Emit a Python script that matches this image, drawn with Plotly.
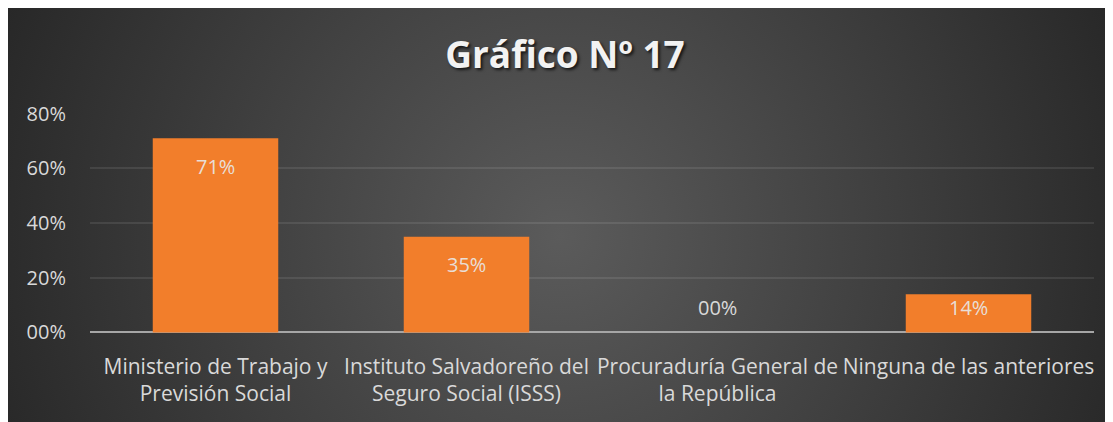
import base64
import plotly.graph_objects as go

# ---- data ----
categories = [
    "Ministerio de Trabajo y<br>Previsión Social",
    "Instituto Salvadoreño del<br>Seguro Social (ISSS)",
    "Procuraduría General de<br>la República",
    "Ninguna de las anteriores",
]
values = [0.71, 0.35, 0.0, 0.14]
tick_vals = [0.0, 0.2, 0.4, 0.6, 0.8]
tick_text = ["00%", "20%", "40%", "60%", "80%"]
title_text = "Gráfico Nº 17"

# ---- geometry (page body has an 8px margin) ----
W, H = 1105, 414
M_L, M_R, M_T, M_B = 82, 19, 105, 89
Y_MIN, Y_MAX = -0.002, 0.802
plot_w = W - M_L - M_R
plot_h = H - M_T - M_B
px_per_unit = plot_h / (Y_MAX - Y_MIN)

svg = (
    f'<svg xmlns="http://www.w3.org/2000/svg" width="{W}" height="{H}" viewBox="0 0 {W} {H}">'
    f'<defs><radialGradient id="g" gradientUnits="userSpaceOnUse" cx="{W*0.5}" cy="{H*0.55}" r="620">'
    '<stop offset="0" stop-color="#5b5b5b"/><stop offset="1" stop-color="#262626"/>'
    '</radialGradient></defs>'
    f'<rect width="{W}" height="{H}" fill="url(#g)"/></svg>'
)
svg_uri = "data:image/svg+xml;base64," + base64.b64encode(svg.encode()).decode()

fig = go.Figure()
fig.add_trace(go.Bar(
    x=categories, y=values,
    marker=dict(color="#f27e2b", line=dict(width=0)),
    hoverinfo="skip",
))

# data labels (inside end, clamped near baseline like Excel)
for c, v in zip(categories, values):
    hpx = v * px_per_unit
    shift = -min(28, hpx - 25)
    fig.add_annotation(
        x=c, y=v, xref="x", yref="y", yshift=shift,
        text=f"{round(v*100):02d}%", showarrow=False,
        font=dict(family="Open Sans", size=20, color="rgba(232,232,232,0.92)"),
        xanchor="center", yanchor="middle",
    )

fig.add_layout_image(dict(
    source=svg_uri, xref="paper", yref="paper",
    x=-M_L / plot_w, y=(H - M_B) / plot_h,
    sizex=W / plot_w, sizey=H / plot_h,
    xanchor="left", yanchor="top", sizing="stretch", layer="below",
))

fig.update_layout(
    width=W, height=H,
    margin=dict(l=M_L, r=M_R, t=M_T, b=M_B, pad=0),
    paper_bgcolor="#2a2a2a",
    plot_bgcolor="rgba(0,0,0,0)",
    bargap=0.5,
    showlegend=False,
    title=dict(
        text=title_text, x=557 / W, xanchor="center", y=1 - 47 / H, yanchor="middle",
        xref="container", yref="container",
        font=dict(family="Open Sans", size=37, weight="bold", color="#f2f2f2",
                  shadow="2px 2px 3px rgba(0,0,0,0.7)"),
    ),
    xaxis=dict(
        showgrid=False, zeroline=False, showline=False, ticks="",
        tickfont=dict(family="Open Sans", size=21, color="#d9d9d9"),
        ticklabelstandoff=19,
    ),
    yaxis=dict(
        range=[Y_MIN, Y_MAX], tickvals=tick_vals, ticktext=tick_text,
        showgrid=True, gridcolor="rgba(255,255,255,0.09)", gridwidth=1.5,
        zeroline=True, zerolinecolor="#a6a6a6", zerolinewidth=2,
        showline=False, ticks="",
        tickfont=dict(family="Open Sans", size=20, color="#d9d9d9"),
        ticklabelstandoff=23,
    ),
)

fig.write_html("out.html")
